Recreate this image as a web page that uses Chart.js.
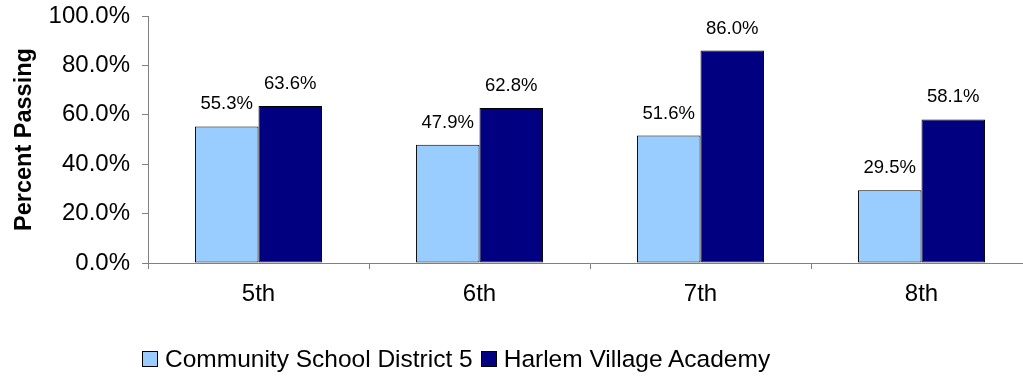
<!DOCTYPE html>
<html>
<head>
<meta charset="utf-8">
<script src="https://cdn.jsdelivr.net/npm/chart.js@4/dist/chart.umd.min.js"></script>
<style>
  html, body { margin: 0; padding: 0; background: #fff; overflow: hidden; width: 1023px; height: 377px; }
  #wrap { position: relative; width: 1023px; height: 377px; overflow: hidden; }
  canvas { position: absolute; left: 0; top: 0; }
  #legend { position: absolute; left: 142px; top: 345px; font-family: "Liberation Sans", Arial, sans-serif; font-size: 24.5px; color: #000; white-space: nowrap; display: flex; align-items: center; }
  .item { display: flex; align-items: center; margin-right: 8px; }
  .box { width: 14px; height: 14px; border: 1px solid #000; margin-right: 7px; }
</style>
</head>
<body>
<div id="wrap">
  <canvas id="c" width="1032" height="377"></canvas>
  <div id="legend"></div>
</div>
<script>
const categories = ["5th", "6th", "7th", "8th"];
const seriesNames = ["Community School District 5", "Harlem Village Academy"];
const district5 = [55.3, 47.9, 51.6, 29.5];
const harlemVillage = [63.6, 62.8, 86.0, 58.1];
const yTicks = [0, 20, 40, 60, 80, 100];
const colors = ["#99CCFF", "#000080"];

const FONT = '"Liberation Sans", Arial, sans-serif';

const valueLabels = {
  id: 'valueLabels',
  afterDatasetsDraw(chart) {
    const ctx = chart.ctx;
    ctx.save();
    ctx.font = '18.5px ' + FONT;
    ctx.fillStyle = '#000';
    ctx.textAlign = 'center';
    ctx.textBaseline = 'alphabetic';
    chart.data.datasets.forEach((ds, i) => {
      const meta = chart.getDatasetMeta(i);
      meta.data.forEach((bar, j) => {
        ctx.fillText(ds.data[j].toFixed(1) + '%', bar.x, bar.y - 17);
      });
    });
    ctx.restore();
  }
};

const chart = new Chart(document.getElementById('c'), {
  type: 'bar',
  data: {
    labels: categories,
    datasets: [
      { label: seriesNames[0], data: district5, backgroundColor: colors[0], borderColor: '#000', borderWidth: 1, borderSkipped: false },
      { label: seriesNames[1], data: harlemVillage, backgroundColor: colors[1], borderColor: '#000', borderWidth: 1, borderSkipped: false }
    ]
  },
  options: {
    responsive: false,
    animation: false,
    devicePixelRatio: 1,
    layout: { autoPadding: false, padding: { left: 0, right: 0, top: 16, bottom: 0 } },
    plugins: { legend: { display: false }, tooltip: { enabled: false } },
    datasets: { bar: { barPercentage: 1, categoryPercentage: 0.575 } },
    scales: {
      x: {
        grid: { offset: true, drawOnChartArea: false, drawTicks: true, tickLength: 6, color: '#808080' },
        border: { color: '#808080', width: 1 },
        ticks: { font: { family: FONT, size: 24 }, color: '#000', padding: 11 },
        afterFit(scale) { scale.height = 377 - 263; scale.paddingLeft = 0; scale.paddingRight = 0; }
      },
      y: {
        min: 0, max: 100,
        afterBuildTicks(scale) { scale.ticks = yTicks.map(v => ({ value: v })); },
        grid: { drawOnChartArea: false, drawTicks: true, tickLength: 6, color: '#808080' },
        border: { color: '#808080', width: 1 },
        ticks: { font: { family: FONT, size: 24 }, color: '#000', padding: 12, callback: v => v.toFixed(1) + '%' },
        title: { display: true, text: 'Percent Passing', font: { family: FONT, size: 23.5, weight: 'bold' }, color: '#000', padding: { top: 10, bottom: 0 } },
        afterFit(scale) { scale.width = 148; scale.paddingTop = 0; scale.paddingBottom = 0; }
      }
    }
  },
  plugins: [valueLabels]
});

const legend = document.getElementById('legend');
seriesNames.forEach((name, i) => {
  const item = document.createElement('div');
  item.className = 'item';
  const box = document.createElement('div');
  box.className = 'box';
  box.style.background = colors[i];
  const txt = document.createElement('span');
  txt.textContent = name;
  item.appendChild(box);
  item.appendChild(txt);
  legend.appendChild(item);
});
</script>
</body>
</html>
